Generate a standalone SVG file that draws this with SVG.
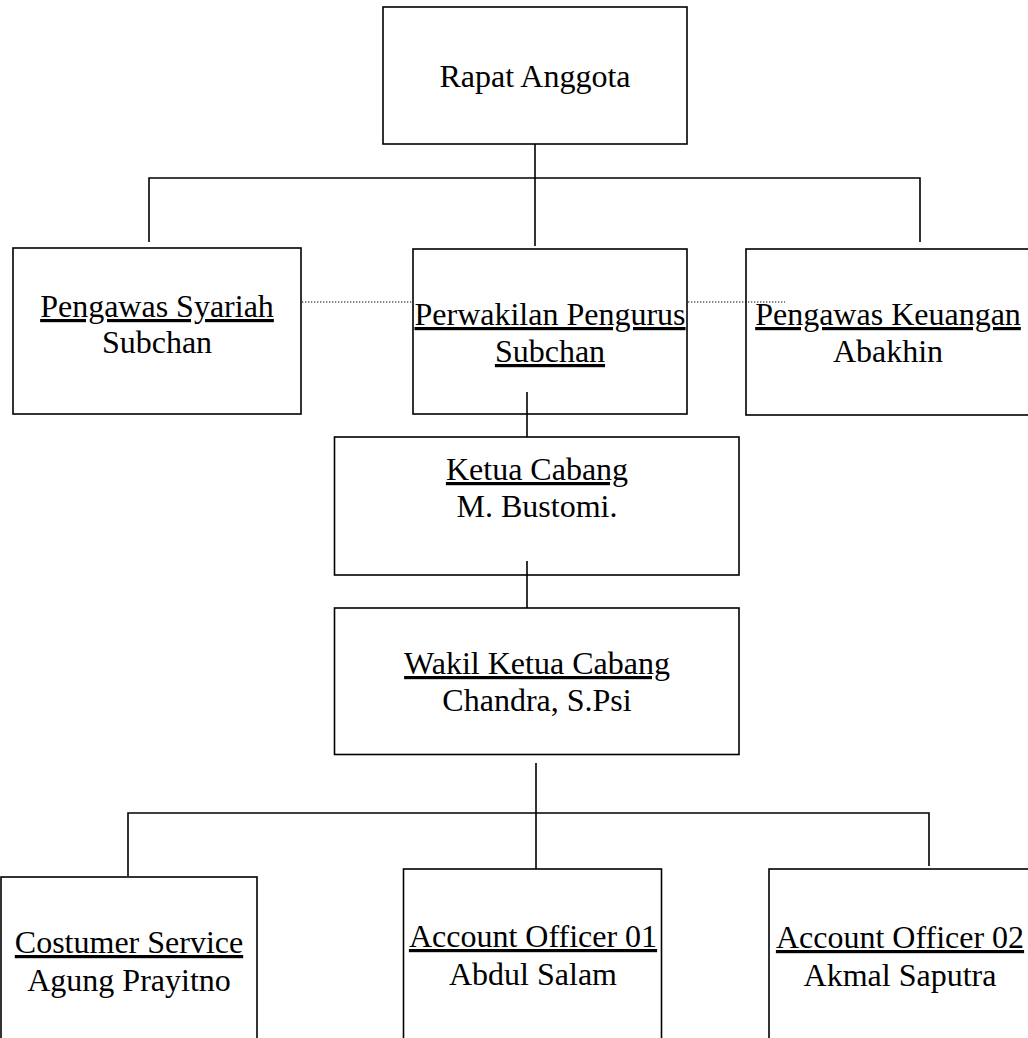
<svg xmlns="http://www.w3.org/2000/svg" width="1028" height="1038" viewBox="0 0 1028 1038">
<style>
.box{fill:#fff;stroke:#000;stroke-width:1.6}
.ln{stroke:#000;stroke-width:1.6;fill:none}
.dot{stroke:#000;stroke-width:1.2;stroke-dasharray:1.3 1.7;fill:none}
text{font-size:32px;fill:#000;text-anchor:middle}
.u{text-decoration:underline}
</style>
<rect width="1028" height="1038" fill="#fff"/>
<g font-family="Liberation Serif, Times New Roman, Times, serif">
<g id="rapat-anggota">
<rect class="box" x="383" y="7" width="304" height="137"/>
<text x="535" y="87">Rapat Anggota</text>
</g>
<g id="pengawas-syariah">
<rect class="box" x="13" y="248" width="288" height="166"/>
<text x="157" y="317" class="u">Pengawas Syariah</text>
<text x="157" y="353">Subchan</text>
</g>
<g id="perwakilan-pengurus">
<rect class="box" x="413" y="249" width="274" height="165"/>
<text x="550" y="325" class="u">Perwakilan Pengurus</text>
<text x="550" y="362" class="u">Subchan</text>
</g>
<g id="pengawas-keuangan">
<rect class="box" x="746" y="249" width="286" height="166"/>
<text x="888" y="325" class="u">Pengawas Keuangan</text>
<text x="888" y="362">Abakhin</text>
</g>
<g id="ketua-cabang">
<rect class="box" x="334.5" y="437" width="404.5" height="138"/>
<text x="537" y="480" class="u">Ketua Cabang</text>
<text x="537" y="517">M. Bustomi.</text>
</g>
<g id="wakil-ketua-cabang">
<rect class="box" x="334.5" y="608" width="404.5" height="146.5"/>
<text x="537" y="674" class="u">Wakil Ketua Cabang</text>
<text x="537" y="711">Chandra, S.Psi</text>
</g>
<g id="costumer-service">
<rect class="box" x="1" y="877" width="256" height="200"/>
<text x="129" y="953" class="u">Costumer Service</text>
<text x="129" y="991">Agung Prayitno</text>
</g>
<g id="account-officer-01">
<rect class="box" x="403.5" y="869" width="258" height="200"/>
<text x="533" y="947" class="u">Account Officer 01</text>
<text x="533" y="985">Abdul Salam</text>
</g>
<g id="account-officer-02">
<rect class="box" x="769" y="869" width="263" height="200"/>
<text x="900" y="948" class="u">Account Officer 02</text>
<text x="900" y="986">Akmal Saputra</text>
</g>
</g>
<g id="connectors">
<line class="ln" x1="535" y1="144" x2="535" y2="246"/>
<polyline class="ln" points="149,242 149,178 920,178 920,242"/>
<line class="dot" x1="302" y1="302" x2="412" y2="302"/>
<line class="dot" x1="688" y1="302" x2="785" y2="302"/>
<line class="ln" x1="527" y1="392" x2="527" y2="437"/>
<line class="ln" x1="527" y1="561" x2="527" y2="608"/>
<line class="ln" x1="536" y1="763" x2="536" y2="869"/>
<polyline class="ln" points="128,876 128,813 929,813 929,866"/>
</g>
</svg>
